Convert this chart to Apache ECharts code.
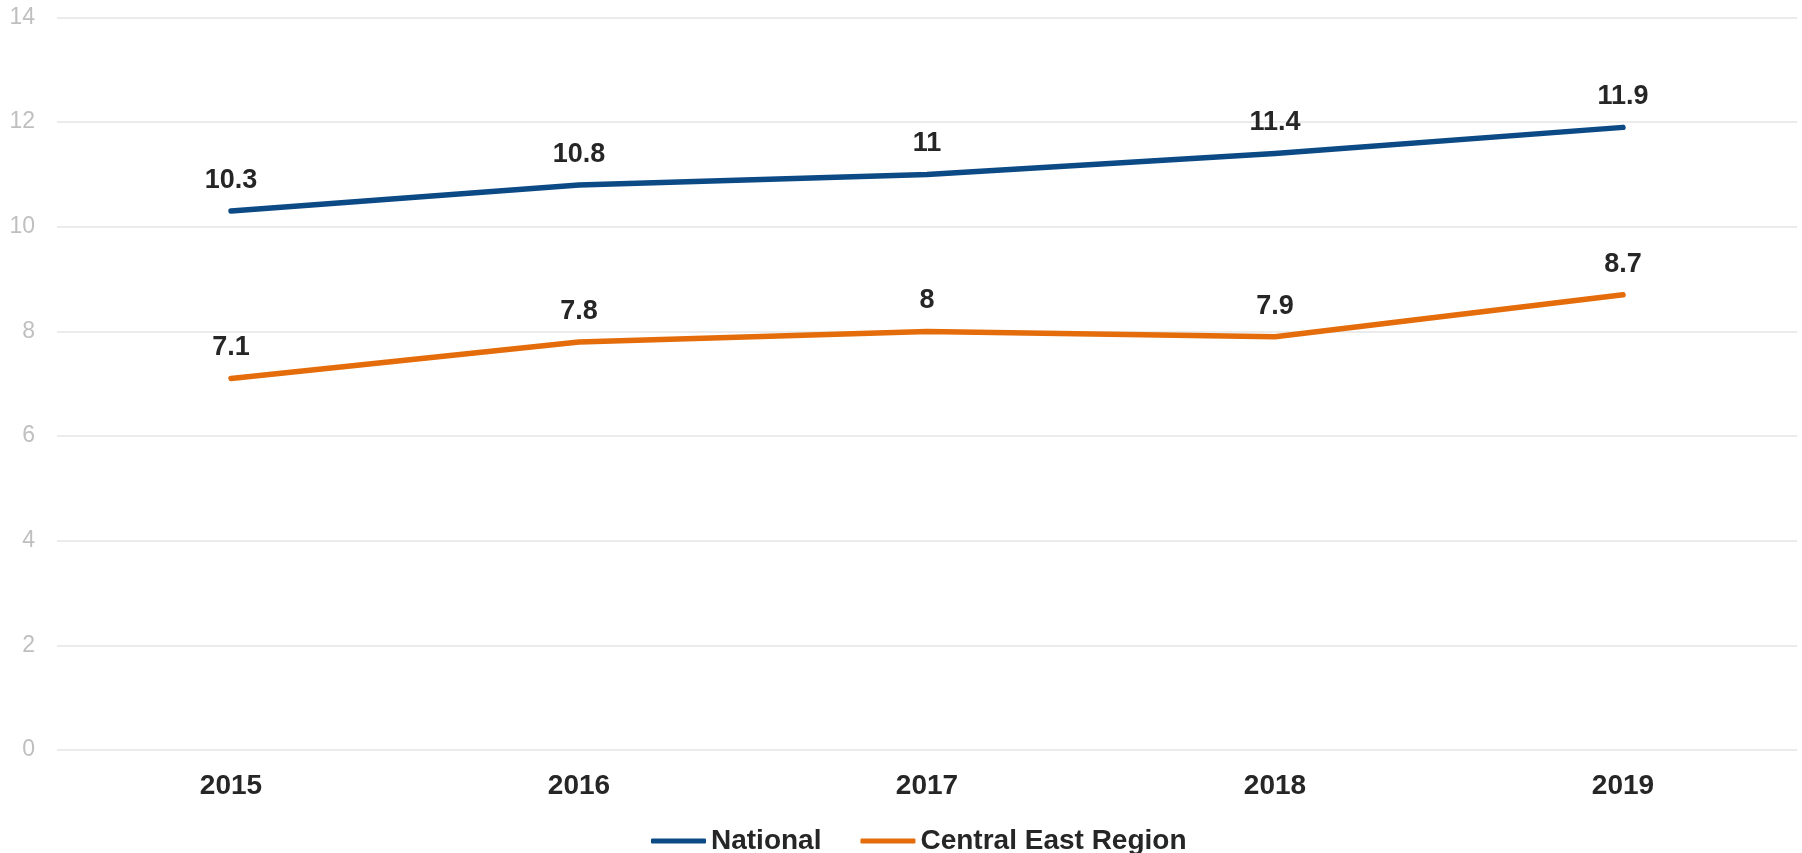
<!DOCTYPE html>
<html>
<head>
<meta charset="utf-8">
<title>National vs Central East Region</title>
<script src="https://cdn.jsdelivr.net/npm/echarts@6/dist/echarts.min.js"></script>
<style>
  html, body { margin: 0; padding: 0; background: #ffffff; }
  #chart { width: 1802px; height: 853px; }
</style>
</head>
<body>
<div id="chart"></div>
<script>
// Years on the category axis
const years = ['2015', '2016', '2017', '2018', '2019'];
// Series values
const national = [10.3, 10.8, 11, 11.4, 11.9];
const centralEast = [7.1, 7.8, 8, 7.9, 8.7];
// Series names
const seriesNames = ['National', 'Central East Region'];
const seriesColors = ['#0b4a85', '#e46c0a'];

const chart = echarts.init(document.getElementById('chart'), null, { renderer: 'canvas' });

const labelStyle = {
  show: true,
  position: 'top',
  distance: 16,
  fontFamily: 'Liberation Sans, Arial, sans-serif',
  fontWeight: 'bold',
  fontSize: 27,
  color: '#262626'
};

function lineSeries(name, data, color) {
  return {
    name: name,
    type: 'line',
    data: data,
    // tiny symbol kept so the value labels are drawn; it sits under the line
    symbol: 'circle',
    symbolSize: 2,
    showSymbol: true,
    smooth: false,
    lineStyle: { color: color, width: 5.5, cap: 'round', join: 'round' },
    itemStyle: { color: color },
    label: labelStyle,
    emphasis: { disabled: true }
  };
}

chart.setOption({
  animation: false,
  backgroundColor: '#ffffff',
  textStyle: { fontFamily: 'Liberation Sans, Arial, sans-serif' },
  grid: { left: 57, right: 5, top: 17.5, bottom: 103, containLabel: false },
  legend: {
    data: seriesNames,
    left: 646,
    top: 822,
    itemWidth: 55,
    itemHeight: 5,
    itemGap: 39,
    icon: 'roundRect',
    textStyle: {
      fontFamily: 'Liberation Sans, Arial, sans-serif',
      fontWeight: 'bold',
      fontSize: 28,
      color: '#262626'
    }
  },
  xAxis: {
    type: 'category',
    data: years,
    boundaryGap: true,
    axisLine: { show: false },
    axisTick: { show: false },
    axisLabel: {
      margin: 22,
      fontFamily: 'Liberation Sans, Arial, sans-serif',
      fontWeight: 'bold',
      fontSize: 28,
      color: '#262626'
    },
    splitLine: { show: false }
  },
  yAxis: {
    type: 'value',
    min: 0,
    max: 14,
    interval: 2,
    axisLine: { show: false },
    axisTick: { show: false },
    axisLabel: {
      margin: 22,
      fontFamily: 'Liberation Sans, Arial, sans-serif',
      fontSize: 23,
      color: '#bfbfbf'
    },
    splitLine: { lineStyle: { color: '#ebebeb', width: 2 } }
  },
  series: [
    lineSeries(seriesNames[0], national, seriesColors[0]),
    lineSeries(seriesNames[1], centralEast, seriesColors[1])
  ]
});
</script>
</body>
</html>
